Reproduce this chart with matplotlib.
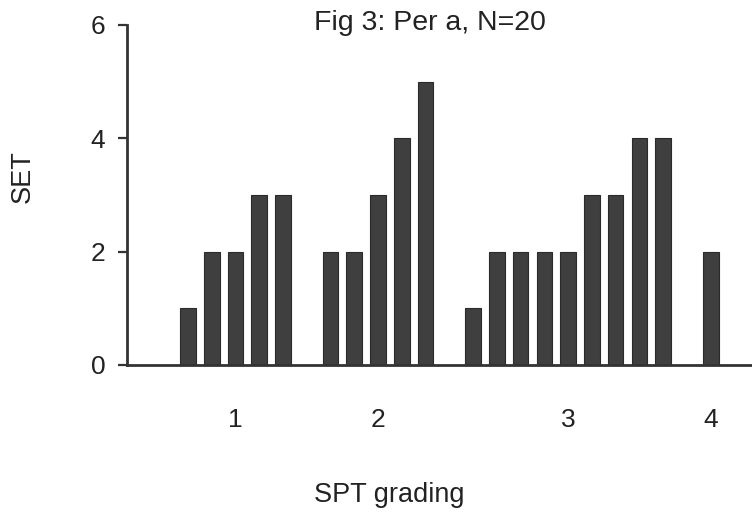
import matplotlib
matplotlib.use("Agg")
import matplotlib.pyplot as plt

plt.rcParams['font.family'] = ['Liberation Sans', 'DejaVu Sans']

# SET value of each subject, grouped by SPT grade
spt_grades = ['1', '2', '3', '4']
set_grade1 = [1, 2, 2, 3, 3]
set_grade2 = [2, 2, 3, 4, 5]
set_grade3 = [1, 2, 2, 2, 2, 3, 3, 4, 4]
set_grade4 = [2]
groups = [set_grade1, set_grade2, set_grade3, set_grade4]

# lay the bars out side by side, one empty slot between grades
xs, heights, centers = [], [], []
pos = 0
for g in groups:
    start = pos
    for v in g:
        xs.append(pos)
        heights.append(v)
        pos += 1
    centers.append((start + pos - 1) / 2)
    pos += 1

fig = plt.figure(figsize=(7.52, 5.13), dpi=100)
ax = fig.add_axes([127 / 752, 1 - 365 / 513, 625 / 752, 340 / 513])

ax.bar(xs, heights, width=0.66, color='#3f3f3f', edgecolor='#2a2a2a',
       linewidth=0.8, zorder=2)

ax.set_xlim(-2.57, 23.74)
ax.set_ylim(0, 6)
ax.set_yticks([0, 2, 4, 6])
ax.set_xticks(centers)
ax.set_xticklabels(spt_grades)

for s in ['top', 'right']:
    ax.spines[s].set_visible(False)
for s in ['left', 'bottom']:
    ax.spines[s].set_linewidth(2.0)
    ax.spines[s].set_color('#333333')
    ax.spines[s].set_zorder(3)

ax.tick_params(axis='y', length=6.5, width=1.6, color='#333333',
               labelsize=19, pad=9, labelcolor='#222222')
ax.tick_params(axis='x', length=0, labelsize=19, pad=31,
               labelcolor='#222222')

fig.text(430 / 752, 1 - 30 / 513, 'Fig 3: Per a, N=20', ha='center',
         va='baseline', fontsize=20.5, color='#222222')
fig.text(389 / 752, 1 - 502 / 513, 'SPT grading', ha='center',
         va='baseline', fontsize=19.5, color='#222222')
fig.text(23 / 752, 1 - 177 / 513, 'SET', ha='center', va='center',
         rotation=90, fontsize=19.5, color='#222222')

fig.savefig('out.png', dpi=100)
